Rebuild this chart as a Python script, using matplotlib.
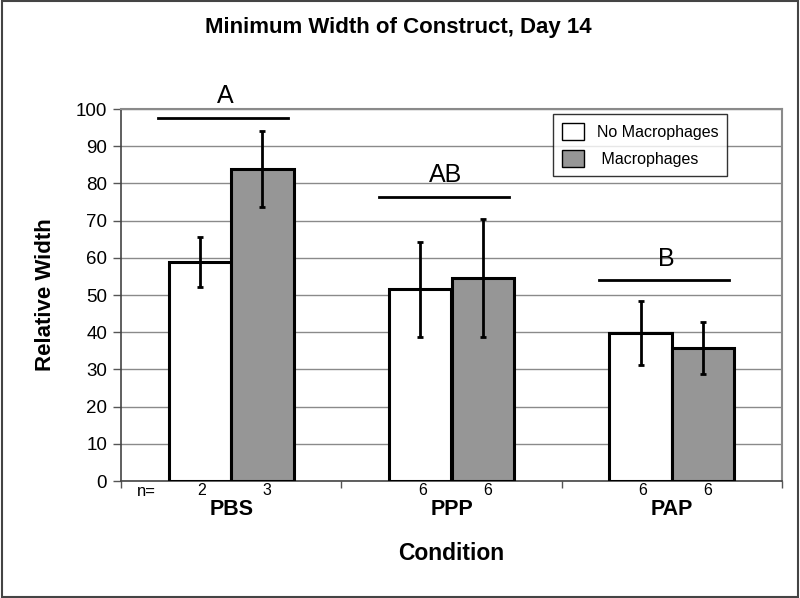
import matplotlib
matplotlib.use("Agg")
import matplotlib.pyplot as plt
from matplotlib.patches import Patch, Rectangle
import numpy as np

plt.rcParams['font.family'] = ['Liberation Sans', 'DejaVu Sans']

categories = ["PBS", "PPP", "PAP"]
series_names = ["No Macrophages", " Macrophages"]
no_macro = [58.9, 51.5, 39.7]
no_macro_err = [6.7, 12.8, 8.6]
macro = [83.9, 54.6, 35.7]
macro_err = [10.3, 15.8, 7.0]
n_no_macro = [2, 6, 6]
n_macro = [3, 6, 6]
sig_letters = ["A", "AB", "B"]
sig_heights = [97.6, 76.4, 54.0]
yticks = [0, 10, 20, 30, 40, 50, 60, 70, 80, 90, 100]

fig = plt.figure(figsize=(8.0, 5.98), dpi=100)
ax = fig.add_axes([121/800, 1-481/598, (782-121)/800, (481-109)/598])

x = np.arange(len(categories))
w = 0.284
ax.bar(x - w/2, no_macro, w, color="white", edgecolor="black", linewidth=2.2, zorder=3)
ax.bar(x + w/2, macro, w, color="#969696", edgecolor="black", linewidth=2.2, zorder=3)
ax.errorbar(x - w/2, no_macro, yerr=no_macro_err, fmt="none", ecolor="black",
            elinewidth=2, capsize=2.5, capthick=2, zorder=4)
ax.errorbar(x + w/2, macro, yerr=macro_err, fmt="none", ecolor="black",
            elinewidth=2, capsize=2.5, capthick=2, zorder=4)

# significance lines
for xi, h, lab in zip(x, sig_heights, sig_letters):
    ax.plot([xi - 0.33, xi + 0.26], [h, h], color="black", lw=2, clip_on=False, zorder=5)
    ax.text(xi - 0.025, h + 5.8, lab, ha="center", va="center", fontsize=18, clip_on=False)

ax.set_xlim(-0.5, 2.5)
ax.set_ylim(0, 100)
ax.set_yticks(yticks)
ax.tick_params(axis="y", labelsize=13.5, length=6, width=1, color="#555555", pad=4)
ax.yaxis.grid(True, color="#8a8a8a", linewidth=1)
ax.set_axisbelow(True)

ax.set_xticks(x)
ax.set_xticklabels(categories, fontsize=15.5, fontweight="bold")
ax.set_xticks([-0.5, 0.5, 1.5, 2.5], minor=True)
ax.tick_params(axis="x", which="major", length=0, pad=13)
ax.tick_params(axis="x", which="minor", length=5, width=1, color="#555555")

for s in ["top", "right"]:
    ax.spines[s].set_color("#8a8a8a")
    ax.spines[s].set_linewidth(1.5)
ax.spines["left"].set_color("#444444")
ax.spines["bottom"].set_color("#444444")
ax.spines["left"].set_linewidth(1.2)
ax.spines["bottom"].set_linewidth(1.2)

# n labels
ax.annotate("n=", xy=(-0.5, 0), xycoords=("data", "axes fraction"),
            xytext=(18.5, -7.5), textcoords="offset points", ha="center", va="center", fontsize=12)
for xi, a, b in zip(x, n_no_macro, n_macro):
    ax.annotate(str(a), xy=(xi - w/2, 0), xycoords=("data", "axes fraction"),
                xytext=(1.5, -7), textcoords="offset points", ha="center", va="center", fontsize=11.5)
    ax.annotate(str(b), xy=(xi + w/2, 0), xycoords=("data", "axes fraction"),
                xytext=(3.5, -7), textcoords="offset points", ha="center", va="center", fontsize=11.5)

ax.set_ylabel("Relative Width", fontsize=16, fontweight="bold", labelpad=14)
ax.set_xlabel("Condition", fontsize=16.5, fontweight="bold", labelpad=16)
fig.text(398/800, 1-28/598, "Minimum Width of Construct, Day 14", ha="center", va="center",
         fontsize=16, fontweight="bold")

handles = [Patch(facecolor="white", edgecolor="black", linewidth=1),
           Patch(facecolor="#969696", edgecolor="black", linewidth=1)]
leg = ax.legend(handles, series_names, loc="upper left",
                bbox_to_anchor=(553/800, 1-114/598), bbox_transform=fig.transFigure,
                fontsize=11.5, frameon=True, fancybox=False, edgecolor="black",
                handlelength=1.4, handleheight=1.3, borderpad=0.55, labelspacing=0.6,
                handletextpad=0.8, borderaxespad=0)
leg.get_frame().set_linewidth(1)

fig.add_artist(Rectangle((0.002, 0.002), 0.996, 0.996, transform=fig.transFigure,
                         fill=False, edgecolor="#444444", linewidth=1.5))

fig.savefig("out.png", dpi=100)
